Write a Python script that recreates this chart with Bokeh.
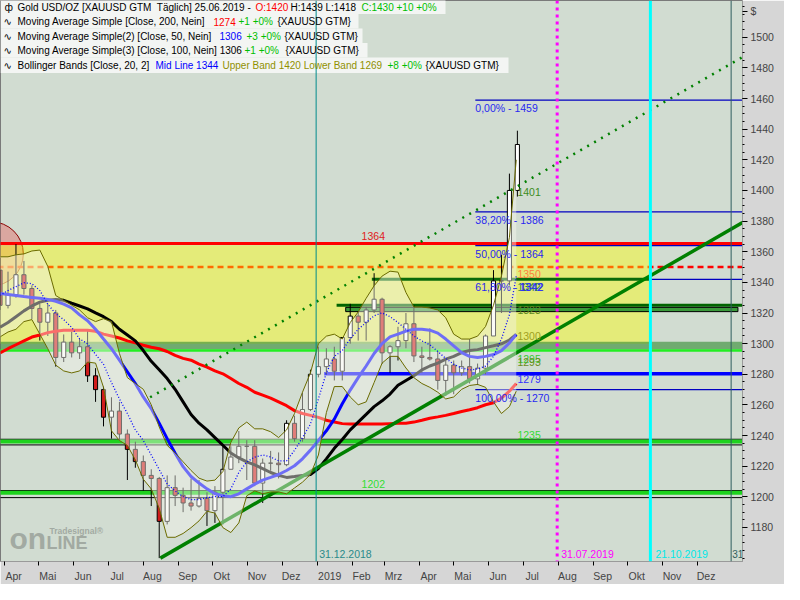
import pandas as pd
from bokeh.plotting import figure
from bokeh.models import Range1d, FixedTicker, Label, BoxAnnotation, Span
from bokeh.embed import file_html
from bokeh.resources import INLINE
from bokeh.core.properties import value

ORIGIN = pd.Timestamp("2018-12-31")


def D(s):
    return int((pd.Timestamp(s) - ORIGIN).days)


# ---------------- data ----------------
week_mid = [d.strftime("%Y-%m-%d") for d in pd.date_range("2018-03-28", periods=66, freq="7D")]
last_day = "2019-06-25"

opens = [1348, 1325, 1332, 1345, 1336, 1323, 1314, 1320, 1291, 1301,
         1294, 1298, 1279, 1270, 1252, 1256, 1241, 1231, 1223, 1214,
         1212, 1184, 1206, 1201, 1196, 1194, 1199, 1191, 1203, 1218,
         1226, 1233, 1233, 1209, 1222, 1222, 1221, 1248, 1238, 1257,
         1280, 1285, 1290, 1282, 1304, 1318, 1314, 1322, 1329, 1294,
         1298, 1302, 1313, 1292, 1291, 1290, 1276, 1286, 1281, 1285,
         1277, 1284, 1305, 1341, 1341, 1400]
highs = [1356, 1347, 1365, 1354, 1338, 1326, 1326, 1322, 1306, 1308,
         1303, 1309, 1284, 1272, 1265, 1262, 1244, 1236, 1227, 1218,
         1213, 1214, 1214, 1206, 1212, 1211, 1203, 1207, 1233, 1233,
         1243, 1237, 1237, 1225, 1230, 1229, 1250, 1253, 1268, 1283,
         1298, 1297, 1298, 1304, 1326, 1321, 1324, 1346, 1330, 1299,
         1311, 1320, 1325, 1298, 1310, 1295, 1289, 1289, 1289, 1303,
         1287, 1306, 1348, 1358, 1411, 1439]
lows = [1322, 1323, 1330, 1332, 1316, 1302, 1305, 1285, 1288, 1291,
        1290, 1275, 1262, 1246, 1238, 1237, 1211, 1219, 1204, 1194,
        1160, 1182, 1194, 1190, 1191, 1193, 1181, 1183, 1182, 1218,
        1222, 1211, 1207, 1196, 1217, 1212, 1220, 1236, 1236, 1256,
        1278, 1280, 1276, 1276, 1300, 1302, 1302, 1320, 1287, 1281,
        1289, 1297, 1288, 1281, 1289, 1270, 1266, 1267, 1279, 1274,
        1273, 1280, 1305, 1320, 1338, 1396]
closes = [1325, 1332, 1345, 1336, 1323, 1314, 1320, 1291, 1301, 1294,
          1298, 1279, 1270, 1252, 1256, 1241, 1231, 1223, 1214, 1212,
          1184, 1206, 1201, 1196, 1194, 1199, 1191, 1203, 1218, 1226,
          1233, 1233, 1209, 1222, 1222, 1221, 1248, 1238, 1257, 1280,
          1285, 1290, 1282, 1304, 1318, 1314, 1322, 1329, 1294, 1298,
          1302, 1313, 1292, 1291, 1290, 1276, 1286, 1281, 1285, 1277,
          1284, 1305, 1341, 1341, 1400, 1430]

ma200 = [1294, 1296.7, 1299.3, 1301.8, 1304.3, 1305.6, 1307.2, 1308.1, 1308.7, 1308.7,
         1308.7, 1308.7, 1308.1, 1306.2, 1305, 1303.7, 1301.8, 1300.5, 1299, 1297.7,
         1296.7, 1294.9, 1292.3, 1290.4, 1289.2, 1286.6, 1284.7, 1282.2, 1280.3, 1277.2,
         1274, 1271.5, 1268.3, 1266.4, 1264.5, 1262, 1259.5, 1256.3, 1254.4, 1253.2,
         1251.9, 1250, 1248.8, 1247.8, 1247.5, 1247.5, 1247.5, 1247.5, 1247.5, 1247.8,
         1248.1, 1248.1, 1248.8, 1250, 1251.3, 1252.2, 1253.2, 1254.4, 1255.7, 1256.9,
         1258.2, 1260.1, 1261.4, 1264.5, 1269, 1274]
ma50 = [1332.7, 1332.1, 1331.5, 1330.8, 1330.2, 1329.6, 1328.9, 1327.7, 1325.8, 1323.3,
        1318.8, 1315, 1309.4, 1303, 1296.7, 1289.2, 1281.6, 1274, 1265.2, 1257.6,
        1248.1, 1238, 1228.5, 1219.7, 1213.3, 1209, 1205.2, 1202, 1200.8, 1200.1,
        1202, 1205.2, 1208.3, 1210.9, 1212.7, 1214.6, 1217.2, 1220.3, 1224.8, 1230.5,
        1236.8, 1243.1, 1250.7, 1260.8, 1269.7, 1277.8, 1285.4, 1293.6, 1300, 1304.4,
        1306.2, 1308.2, 1309.4, 1309.4, 1308.8, 1306.9, 1303, 1298.6, 1294.2, 1291.7,
        1291, 1291.7, 1292.9, 1295.5, 1300.5, 1306]
ma100 = [1310.7, 1313.8, 1317.6, 1321.4, 1324.6, 1327.1, 1328.3, 1328.9, 1328.3, 1326.4,
         1324.6, 1322.7, 1320.1, 1317.6, 1314.4, 1309.4, 1305.6, 1301.8, 1295.5, 1288.5,
         1282.9, 1277.2, 1270.2, 1262, 1253.8, 1248.1, 1243.7, 1238.7, 1233.7, 1228.6,
         1225.4, 1222.8, 1220.9, 1218.4, 1215.9, 1214, 1212.7, 1213.3, 1214, 1214.6,
         1218.4, 1224.8, 1231.7, 1237.4, 1243.7, 1248.8, 1253.8, 1258.9, 1262.7, 1267.1,
         1272.8, 1276, 1279.1, 1282.9, 1285.4, 1287.3, 1289.9, 1291.7, 1294.2, 1295.5,
         1296.1, 1297.4, 1298.6, 1299.9, 1302.4, 1306]
bb_upper = [1356.7, 1356.7, 1358, 1358.6, 1360.5, 1361.1, 1350.4, 1331.4, 1328.3, 1325.1,
            1322, 1316.9, 1314.4, 1316.3, 1314.4, 1293.6, 1277.8, 1274, 1270.2, 1260.1,
            1245.6, 1233.6, 1228.6, 1222.9, 1217.2, 1212.2, 1210.3, 1210.9, 1216.5, 1235.5,
            1245, 1248.8, 1244.4, 1244.4, 1242.5, 1238.7, 1243.7, 1254.4, 1268.3, 1280.9,
            1299.9, 1304.9, 1306.2, 1303, 1313.8, 1320.7, 1329.6, 1337.8, 1344.1, 1347.3,
            1346.7, 1333.4, 1323.9, 1323.9, 1323.3, 1322, 1316.9, 1306.2, 1303, 1303,
            1304.9, 1311.2, 1325.1, 1344.1, 1369.4, 1420]
bb_lower = [1304.4, 1307.6, 1309.4, 1314.4, 1315.7, 1306.2, 1296.7, 1286, 1282.2, 1280.9,
            1282.2, 1288, 1287.3, 1271.5, 1243.1, 1236.8, 1233.6, 1224.1, 1211.5, 1205.2,
            1192.5, 1173.6, 1173.6, 1176.1, 1179.9, 1184.3, 1190.6, 1189.4, 1179.9, 1176.7,
            1183, 1200.7, 1203.9, 1202, 1203.2, 1203.2, 1202, 1205.8, 1209.6, 1214.6,
            1227.3, 1255, 1272, 1272, 1265.2, 1260.1, 1262, 1274.6, 1287.3, 1291.7,
            1291.7, 1284.1, 1277.8, 1274, 1271.5, 1268.3, 1263.9, 1265.2, 1270.2, 1272.7,
            1273.4, 1271.5, 1262, 1254.4, 1258.9, 1269]
bb_mid = [1331.5, 1334.7, 1337.2, 1339.8, 1339.1, 1334.7, 1325.8, 1319.5, 1315.7, 1310.6,
          1303.1, 1299.9, 1293, 1286.6, 1274.6, 1263.9, 1254.4, 1243.7, 1236.8, 1227.3,
          1217.8, 1208.3, 1203.9, 1200.1, 1198.2, 1198.2, 1199.5, 1200.1, 1200.1, 1205.2,
          1215.9, 1222.8, 1226, 1227.3, 1226, 1223.5, 1223.5, 1230.4, 1238.7, 1247.5,
          1263.9, 1281, 1291.7, 1295.5, 1303.1, 1309.4, 1313.8, 1318.2, 1320.1, 1317.6,
          1313.8, 1309.4, 1305, 1301.8, 1299.3, 1294.9, 1290.4, 1286.6, 1284.1, 1282.8,
          1283.5, 1285.4, 1291.7, 1303.1, 1318.9, 1344]

# drawn objects (levels / dates)
zone_bottom, zone_top, zone_end = 1300, 1364.3, "2019-10-21"
red_level, dashed_level = 1365.3, 1350
fib_levels = [1459, 1386, 1364, 1342, 1270]
fib_names = ["0,00% - 1459", "38,20% - 1386", "50,00% - 1364", "61,80% - 1342", "100,00% - 1270"]
fib_start = "2019-05-20"
green1342_level, green1342_dates = 1342, ["2019-02-18", "2019-10-21"]
line1325_level, line1325_start = 1325.1, "2019-01-18"
rect1323 = (1320.9, 1323.7, "2019-01-26", "2020-01-06")
band1300 = (1296.2, 1301.3)
bright1295_level = 1295.6
blue1279_level, blue1279_start = 1280.3, "2019-01-07"
sup1235 = (1233.9, 1237.6, 1236.1)
sup1202 = (1199.5, 1204.1, 1202.7)
trend_solid_dates, trend_solid_prices = ["2018-08-16", "2020-01-10"], [1160, 1379]
trend_dotted_dates, trend_dotted_prices = ["2018-08-07", "2020-01-10"], [1265, 1487]
circle_date, circle_price = "2018-03-20", 1358.6
vline_dates = ["2018-12-31", "2019-07-31", "2019-10-21", "2019-12-31"]
vline_texts = ["31.12.2018", "31.07.2019", "21.10.2019", "31"]

lvl_texts = ["1401", "1350", "1342", "1342", "1323", "1300", "1295", "1293", "1279", "1235"]
lvl_prices = [1401, 1350, 1342, 1342, 1323, 1300, 1295, 1293, 1279, 1235]
lvl_date = "2019-06-26"
left_texts = ["1364", "1202"]
left_prices = [1364, 1202]
left_date = "2019-02-09"

month_names = ["2019", "Feb", "Mrz", "Apr", "Mai", "Jun", "Jul", "Aug", "Sep", "Okt", "Nov", "Dez"]
price_ticks = list(range(1180, 1501, 20))
currency_tick, currency_text = 1517, "$"

# ---------------- figure ----------------
FW, FH = 742, 565
SX, SY = FW / 757.0, FH / 580.0
FONT = "Liberation Sans"
far_left, far_right = D("2018-02-01"), D("2020-02-15")

p = figure(width=784, height=584, output_backend="svg", toolbar_location=None,
           x_range=Range1d(-277.6, 375.0), y_range=Range1d(1157.8, 1524.0),
           y_axis_location="right",
           min_border_left=0, min_border_top=0, min_border_right=42, min_border_bottom=19,
           background_fill_color="#D1DCD1", border_fill_color="#D6D6D6",
           outline_line_color="#7A7A7A")
p.grid.visible = False

ya = p.yaxis[0]
ya.ticker = FixedTicker(ticks=price_ticks + [currency_tick],
                        minor_ticks=list(range(1160, 1521, 5)))
ya.major_label_overrides = {currency_tick: currency_text}
ya.major_tick_out, ya.major_tick_in = 5, 0
ya.minor_tick_out, ya.minor_tick_in = 2, 0
ya.major_label_text_font = FONT
ya.major_label_text_font_size = "10.5px"
ya.major_label_standoff = 3
ya.axis_line_color = "#9A9A9A"

xa = p.xaxis[0]
starts = pd.date_range("2018-04-01", "2019-12-01", freq="MS")
centers, overrides = [], {}
for m in starts:
    c = D(m) + (11 if m.month == 1 else 8)
    centers.append(c)
    overrides[c] = month_names[m.month - 1]
xa.ticker = FixedTicker(ticks=centers, minor_ticks=[D(m) for m in starts])
xa.major_label_overrides = overrides
xa.major_tick_line_color = None
xa.minor_tick_out, xa.minor_tick_in = 4, 0
xa.minor_tick_line_color = "#000000"
xa.major_label_text_font = FONT
xa.major_label_text_font_size = "10.5px"
xa.major_label_standoff = 2
xa.axis_line_color = "#9A9A9A"

# gradient strips for the axis areas
n = 14
for i in range(n):
    g = int(255 - (255 - 184) * i / (n - 1))
    col = "#%02x%02x%02x" % (g, g, g)
    p.add_layout(BoxAnnotation(left=FW + i * 3, right=FW + i * 3 + 3, top=FH, bottom=0,
                               left_units="screen", right_units="screen", top_units="screen",
                               bottom_units="screen", fill_color=col, fill_alpha=1,
                               line_color=None, level="underlay"))
for i in range(6):
    g = int(250 - (250 - 214) * i / 5)
    col = "#%02x%02x%02x" % (g, g, g)
    p.add_layout(BoxAnnotation(left=0, right=FW, top=-i * 3.2, bottom=-(i + 1) * 3.2,
                               left_units="screen", right_units="screen", top_units="screen",
                               bottom_units="screen", fill_color=col, fill_alpha=1,
                               line_color=None, level="underlay"))

# ---- layer 1: things under the yellow zone
p.ellipse(x=[D(circle_date)], y=[circle_price], width=57, height=42,
          fill_color="#F03030", fill_alpha=0.3, line_color="#8B0000", line_width=1)
p.segment(x0=[far_left], y0=[red_level], x1=[far_right], y1=[red_level],
          line_color="#FF0000", line_width=3)
p.segment(x0=[far_left], y0=[dashed_level], x1=[far_right], y1=[dashed_level],
          line_color="#FF0000", line_width=2.5, line_dash="6 4")

# ---- yellow zone
p.quad(left=[far_left], right=[D(zone_end)], bottom=[zone_bottom], top=[zone_top],
       fill_color="#FFFF00", fill_alpha=0.42, line_color=None)
p.quad(left=[far_left], right=[far_right], bottom=[band1300[0]], top=[band1300[1]],
       fill_color="#2E8B2E", fill_alpha=0.6, line_color=None)
p.segment(x0=[far_left], y0=[bright1295_level], x1=[far_right], y1=[bright1295_level],
          line_color="#22EE22", line_width=2.5)

# ---- horizontal lines
fx0 = [D(fib_start)] * len(fib_levels)
p.segment(x0=fx0, y0=fib_levels, x1=[far_right] * len(fib_levels), y1=fib_levels,
          line_color="#0000C0", line_width=1.2)
p.segment(x0=[D(green1342_dates[0])], y0=[green1342_level], x1=[D(green1342_dates[1])],
          y1=[green1342_level], line_color="#0A6A0A", line_width=3)
p.segment(x0=[D(line1325_start)], y0=[line1325_level], x1=[far_right], y1=[line1325_level],
          line_color="#006400", line_width=3)
p.quad(left=[D(rect1323[2])], right=[D(rect1323[3])], bottom=[rect1323[0]], top=[rect1323[1]],
       fill_color="#3A9A3A", line_color="#000000", line_width=1)
p.segment(x0=[D(blue1279_start)], y0=[blue1279_level], x1=[far_right], y1=[blue1279_level],
          line_color="#0000FF", line_width=3.5)
for lo, hi, mid in (sup1235, sup1202):
    p.quad(left=[far_left], right=[far_right], bottom=[lo], top=[hi],
           fill_color=None, line_color="#000000", line_width=1)
    p.segment(x0=[far_left], y0=[mid], x1=[far_right], y1=[mid],
              line_color="#1ED21E", line_width=4)

# ---- candles
wk_x = [D(d) for d in week_mid]
tops = [max(o, c) for o, c in zip(opens, closes)]
bots = [min(o, c) for o, c in zip(opens, closes)]
fills = ["#FFFFFF" if c >= o else "#D01C1C" for o, c in zip(opens, closes)]
p.segment(x0=wk_x, y0=lows, x1=wk_x, y1=highs, line_color="#000000", line_width=1)
p.vbar(x=wk_x, width=3.6, top=tops, bottom=bots, fill_color=fills,
       line_color="#000000", line_width=1)

# ---- moving averages
ind_x = [D(d) for d in week_mid[:-1]] + [D(last_day)]
p.line(ind_x, ma200, line_color="#FF0000", line_width=3)
p.line(ind_x, ma100, line_color="#000000", line_width=3)
p.line(ind_x, ma50, line_color="#0000FF", line_width=3)

# ---- trend lines
p.line([D(d) for d in trend_solid_dates], trend_solid_prices, line_color="#008000", line_width=3.5)
p.line([D(d) for d in trend_dotted_dates], trend_dotted_prices, line_color="#008000",
       line_width=2.5, line_dash="2 6")

# ---- bollinger fill (translucent) + band lines
p.varea(x=ind_x, y1=bb_lower, y2=bb_upper, fill_color="#F4F4EC", fill_alpha=0.45)
p.line(ind_x, bb_upper, line_color="#6B6B00", line_width=1)
p.line(ind_x, bb_lower, line_color="#6B6B00", line_width=1)
p.line(ind_x, bb_mid, line_color="#0000FF", line_width=1.3, line_dash="1 2")


# ---- texts on the chart
def txt(x, y, t, color, yoff, xoff=0, size="10.5px"):
    p.text(x=[x], y=[y], text=[t], text_color=color, text_font=value(FONT),
           text_font_size=size, text_align="left", text_baseline="middle",
           x_offset=xoff, y_offset=yoff)


for lv, nm in zip(fib_levels, fib_names):
    txt(D(fib_start), lv, nm, "#2828F0", 8)
lvl_colors = ["#3C8C1C", "#FF8040", "#2E8B2E", "#3030FF", "#5C8C1C", "#A0A020",
              "#33CC33", "#6C8C1C", "#3030FF", "#33DD33"]
lvl_offs = [3.5, 6.5, 7.5, 7.5, 2, -8, 8, 8, 3, -8]
lvl_xoffs = [0, 0, 0, 2, 0, 0, 0, 0, 0, 0]
for t, pr, c, yo, xo in zip(lvl_texts, lvl_prices, lvl_colors, lvl_offs, lvl_xoffs):
    txt(D(lvl_date), pr, t, c, yo, xo)
for t, pr, c in zip(left_texts, left_prices, ["#E02020", "#33DD33"]):
    txt(D(left_date), pr, t, c, -10)

for d, t, c, xo in zip(vline_dates, vline_texts, ["#2A8A8A", "#FF00FF", "#00E8E8", "#2F5F5F"],
                       [3, 4, 5, 1]):
    txt(D(d), 1157.8, t, c, -8, xo, "10px" if t == "31" else "10.5px")


# ---- legend boxes (screen units, measured from the frame's bottom)
def sy(py):
    return FH - py


for (y0, y1, x1) in [(2, 17.5, 445), (17.5, 32, 358), (32, 46.5, 362), (46.5, 61, 367), (61, 76.5, 508)]:
    p.add_layout(BoxAnnotation(left=0, right=x1, top=sy(y0), bottom=sy(y1),
                               left_units="screen", right_units="screen", top_units="screen",
                               bottom_units="screen", fill_color="#F4F6F4", fill_alpha=0.95,
                               line_color=None))

# ---- vertical lines
for d, c, w, dash in zip(vline_dates, ["#008B8B", "#FF00FF", "#00FFFF", "#2F5F5F"],
                         [1, 3, 3, 1], ["solid", "3 4", "solid", "solid"]):
    p.add_layout(Span(location=D(d), dimension="height", line_color=c, line_width=w,
                      line_dash=dash))

# ---- legend texts
legend_rows = [
    (10.5, [("ф", "#000000", 4), ("Gold USD/OZ [XAUUSD GTM\u00a0 Täglich] 25.06.2019 -", "#000000", 17),
            ("O:1420", "#FF0000", 255), ("H:1439 L:1418", "#000000", 290),
            ("C:1430 +10 +0%", "#00C000", 361)]),
    (25, [("∿", "#000000", 3), ("Moving Average Simple [Close, 200, Nein]", "#000000", 17),
          ("1274", "#FF0000", 213), ("+1 +0%", "#00C000", 238), ("{XAUUSD GTM}", "#000000", 277)]),
    (39.5, [("∿", "#000000", 3), ("Moving Average Simple(2) [Close, 50, Nein]", "#000000", 17),
            ("1306", "#0000FF", 219), ("+3 +0%", "#00C000", 246), ("{XAUUSD GTM}", "#000000", 284)]),
    (54, [("∿", "#000000", 3), ("Moving Average Simple(3) [Close, 100, Nein] 1306", "#000000", 17),
          ("+1 +0%", "#00C000", 244), ("{XAUUSD GTM}", "#000000", 285)]),
    (69, [("∿", "#000000", 3), ("Bollinger Bands [Close, 20, 2]", "#000000", 17),
          ("Mid Line 1344", "#0000FF", 155), ("Upper Band 1420 Lower Band 1269", "#909000", 222),
          ("+8 +0%", "#00C000", 387), ("{XAUUSD GTM}", "#000000", 425)]),
]
for yc, segs in legend_rows:
    for t, c, x in segs:
        p.add_layout(Label(x=x, y=sy(yc), x_units="screen", y_units="screen", text=t,
                           text_color=c, text_font="DejaVu Sans" if x < 10 else FONT,
                           text_font_size="10px", text_baseline="middle", text_align="left"))

# ---- watermark
p.add_layout(Label(x=9, y=FH - 556 * SY, x_units="screen", y_units="screen", text="on",
                   text_color="#A2AAA2", text_font=FONT, text_font_style="bold",
                   text_font_size="30px", text_baseline="middle"))
p.add_layout(Label(x=46, y=FH - 561 * SY, x_units="screen", y_units="screen", text="LINE",
                   text_color="#A2AAA2", text_font=FONT, text_font_style="bold",
                   text_font_size="18px", text_baseline="middle"))
p.add_layout(Label(x=49, y=FH - 549 * SY, x_units="screen", y_units="screen", text="Tradesignal®",
                   text_color="#A2AAA2", text_font=FONT, text_font_style="bold",
                   text_font_size="8.5px", text_baseline="middle"))

open("out.html", "w").write(file_html(p, INLINE))
